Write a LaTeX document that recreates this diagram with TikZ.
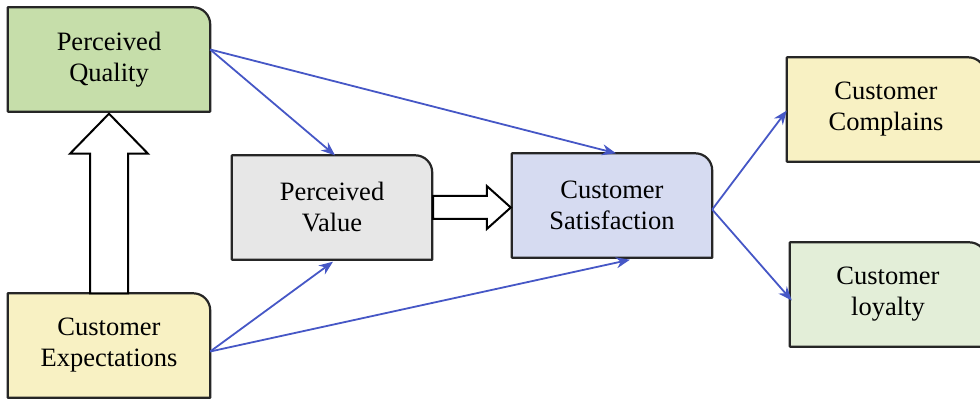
\documentclass[tikz,border=0pt]{standalone}
\usepackage{fontspec}
\setmainfont{Liberation Serif}
\usetikzlibrary{arrows.meta,backgrounds,calc}
\definecolor{pqfill}{HTML}{C6DEAA}
\definecolor{pvfill}{HTML}{E7E7E7}
\definecolor{csfill}{HTML}{D6DBF1}
\definecolor{yelfill}{HTML}{F8F1C3}
\definecolor{clfill}{HTML}{E3EED8}
\definecolor{bluearr}{HTML}{4657C6}
\begin{document}
\begin{tikzpicture}[x=1pt,y=-1pt,
  box/.style={minimum width=#1, minimum height=104pt, inner sep=0pt, align=center,
    font=\fontsize{26.5}{31}\selectfont},
  box/.default=200pt,
  outline/.style={draw=black!85, line width=2.2pt, line join=round},
  bluelink/.style={draw=bluearr, line width=1.8pt, -{Stealth[length=14pt,width=11pt]}},
  blockarrow/.style={draw=black, line width=2pt, fill=white, line join=miter}
]
\clip (0,0) rectangle (980,403);
\node[box=202pt] (pq) at (109,59.5) {Perceived\\Quality};
\node[box] (pv) at (332,207.5) {Perceived\\Value};
\node[box] (cs) at (612,205.5) {Customer\\Satisfaction};
\node[box=198pt] (cc) at (886,109.5) {Customer\\Complains};
\node[box=196pt] (cl) at (888,294.5) {Customer\\loyalty};
\node[box=202pt] (ce) at (109,345.5) {Customer\\Expectations};
\begin{scope}[on background layer]
\foreach \n/\c in {pq/pqfill,pv/pvfill,cs/csfill,cc/yelfill,cl/clfill,ce/yelfill}{
  \draw[outline, fill=\c] (\n.south west) -- (\n.north west)
    -- ([xshift=-17pt]\n.north east) arc[start angle=90, end angle=0, radius=17pt]
    -- (\n.south east) -- cycle;
}
\end{scope}
% block arrow up
\draw[blockarrow] ([xshift=-19pt]ce.north) -- ([xshift=-19pt,yshift=-42pt]pq.south)
  -- ([xshift=-39pt,yshift=-42pt]pq.south) -- ([yshift=-2pt]pq.south)
  -- ([xshift=39pt,yshift=-42pt]pq.south) -- ([xshift=19pt,yshift=-42pt]pq.south)
  -- ([xshift=19pt]ce.north) -- cycle;
% block arrow right
\coordinate (tipR) at (cs.west |- pv.east);
\draw[blockarrow] ([xshift=1pt,yshift=11.5pt]pv.east) -- ([xshift=-25pt,yshift=11.5pt]tipR)
  -- ([xshift=-25pt,yshift=21.5pt]tipR) -- ([xshift=-1pt]tipR)
  -- ([xshift=-25pt,yshift=-21.5pt]tipR) -- ([xshift=-25pt,yshift=-11.5pt]tipR)
  -- ([xshift=1pt,yshift=-11.5pt]pv.east) -- cycle;
% blue connectors
\draw[bluelink] ([yshift=10pt]pq.east) -- ([xshift=3pt]pv.north);
\draw[bluelink] ([yshift=10pt]pq.east) -- ([xshift=4pt]cs.north);
\draw[bluelink] ([yshift=-6pt]ce.east) -- ([xshift=1pt,yshift=-2pt]pv.south);
\draw[bluelink] ([yshift=-6pt]ce.east) -- ([xshift=18pt,yshift=-2pt]cs.south);
\draw[bluelink] ([yshift=-4pt]cs.east) -- ([yshift=-1pt]cc.west);
\draw[bluelink] ([yshift=-4pt]cs.east) -- ([xshift=2pt,yshift=-6pt]cl.west);
\end{tikzpicture}
\end{document}
